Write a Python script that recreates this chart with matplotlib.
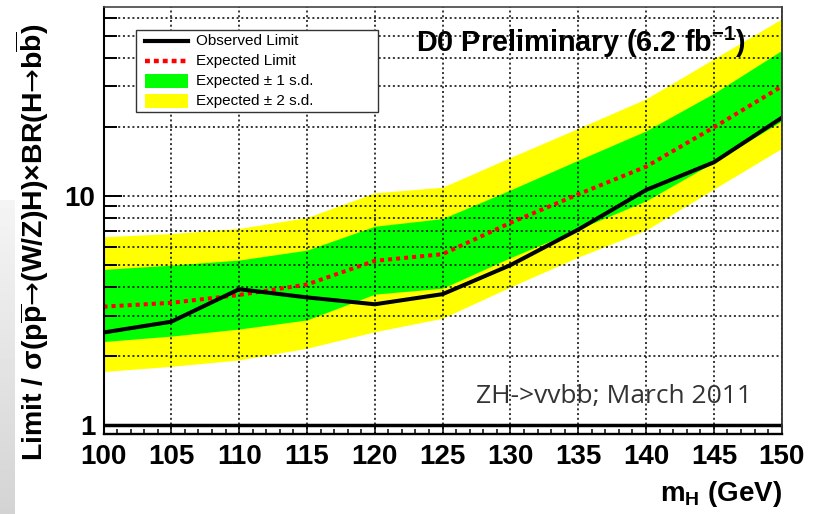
import numpy as np
import matplotlib
matplotlib.use("Agg")
import matplotlib.pyplot as plt
from matplotlib.patches import Rectangle
from matplotlib.lines import Line2D
from matplotlib.transforms import Affine2D
from matplotlib.ticker import FixedLocator, MultipleLocator, NullFormatter, FixedFormatter

# ---------------- data ----------------
mass = [100, 105, 110, 115, 120, 125, 130, 135, 140, 145, 150]
observed = [2.53, 2.82, 3.91, 3.60, 3.36, 3.72, 4.98, 7.12, 10.6, 14.0, 21.9]
expected = [3.28, 3.41, 3.69, 4.10, 5.20, 5.56, 7.62, 10.15, 13.4, 19.9, 30.0]
minus1 = [2.31, 2.44, 2.62, 2.87, 3.72, 3.95, 5.37, 7.15, 9.5, 14.0, 21.2]
plus1 = [4.77, 4.98, 5.24, 5.79, 7.36, 7.95, 10.6, 14.3, 19.2, 28.0, 43.1]
minus2 = [1.71, 1.80, 1.92, 2.16, 2.55, 2.92, 4.0, 5.4, 7.08, 10.7, 16.1]
plus2 = [6.62, 6.84, 7.2, 8.04, 10.3, 10.9, 14.7, 19.7, 26.5, 39.6, 59.2]

xticks = [100, 105, 110, 115, 120, 125, 130, 135, 140, 145, 150]
yticks_major = [1, 10]
yticks_labels = ["1", "10"]
yticks_minor = [2, 3, 4, 5, 6, 7, 8, 9, 20, 30, 40, 50, 60]

legend_labels = ["Observed Limit", "Expected Limit", "Expected \u00b1 1 s.d.", "Expected \u00b1 2 s.d."]

# ---------------- style ----------------
plt.rcParams["font.family"] = ["Liberation Sans", "DejaVu Sans"]
plt.rcParams["mathtext.fontset"] = "custom"
plt.rcParams["mathtext.rm"] = "Liberation Sans:bold"
plt.rcParams["mathtext.bf"] = "Liberation Sans:bold"
plt.rcParams["mathtext.it"] = "Liberation Sans:bold"
plt.rcParams["mathtext.sf"] = "DejaVu Sans"

W, H = 823, 514
fig = plt.figure(figsize=(W / 100, H / 100), dpi=100)
T = Affine2D().scale(1, -1).translate(0, H)  # pixel coords (y from top)

# faint slide background on the far left
bg = fig.add_axes([0, 0, 15 / W, (H - 200) / H], zorder=-5)
grad = np.linspace(0.96, 0.83, 200).reshape(-1, 1)
bg.imshow(np.repeat(grad, 4, axis=1), cmap="gray", vmin=0, vmax=1, aspect="auto",
          extent=[0, 1, 1, 0])
bg.axis("off")

L, R, TOP, BOT = 103.5, 781.7, 7.3, 434.0
ax = fig.add_axes([L / W, 1 - BOT / H, (R - L) / W, (BOT - TOP) / H])
ax.set_yscale("log")
ax.set_xlim(100, 150)
ax.set_ylim(0.912, 66.5)

ax.fill_between(mass, minus2, plus2, color="#ffff00", lw=0, zorder=1)
ax.fill_between(mass, minus1, plus1, color="#00ff00", lw=0, zorder=1.1)
ax.plot(mass, expected, color="#ff0000", lw=2.9, ls=(0, (1, 1)), zorder=3)
ax.plot(mass, observed, color="black", lw=2.9, zorder=3.1)
ax.axhline(1, color="black", lw=2.5, zorder=3.2)

# ticks & grid
ax.yaxis.set_major_locator(FixedLocator(yticks_major))
ax.yaxis.set_major_formatter(FixedFormatter(yticks_labels))
ax.yaxis.set_minor_locator(FixedLocator(yticks_minor))
ax.yaxis.set_minor_formatter(NullFormatter())
ax.xaxis.set_major_locator(FixedLocator(xticks))
ax.xaxis.set_minor_locator(MultipleLocator(1))

ax.tick_params(axis="y", which="major", direction="in", length=13, width=1.4,
               labelsize=20, pad=6, left=True, right=False)
ax.tick_params(axis="y", which="minor", direction="in", length=9, width=1.4,
               left=True, right=False)
ax.tick_params(axis="x", which="major", direction="in", length=7.2, width=1.1,
               labelsize=20, pad=7, bottom=True, top=False)
ax.tick_params(axis="x", which="minor", direction="in", length=3.6, width=1.1,
               bottom=True, top=False)
for lab in ax.get_xticklabels() + ax.get_yticklabels():
    lab.set_fontweight("bold")

ax.set_axisbelow(False)
ax.grid(True, which="major", axis="x", color="black", lw=1.1, ls=(0, (1.3, 1.8)))
ax.grid(True, which="both", axis="y", color="black", lw=1.1, ls=(0, (1.3, 1.8)))

for side, c, lw in [("left", "black", 1.5), ("bottom", "black", 1.7),
                    ("top", "#444444", 1.2), ("right", "#333333", 1.3)]:
    ax.spines[side].set_color(c)
    ax.spines[side].set_linewidth(lw)
    ax.spines[side].set_zorder(4)

# ---------------- legend (drawn in pixel coords, y measured from top) ----------------
fig.add_artist(Rectangle((136, 30), 242.3, 81.7, transform=T, fc="white",
                         ec="#333333", lw=1.0, zorder=10))
rows = [40.7, 60.5, 81.0, 100.5]
fig.add_artist(Line2D([145, 188], [rows[0], rows[0]], transform=T, color="black",
                      lw=3.0, zorder=11))
fig.add_artist(Line2D([145, 188], [rows[1], rows[1]], transform=T, color="#ff0000",
                      lw=3.2, ls=(0, (1.1, 0.9)), zorder=11))
fig.add_artist(Rectangle((145, 74), 43, 14.3, transform=T, fc="#00ff00", lw=0, zorder=11))
fig.add_artist(Rectangle((145, 94.3), 43, 14.0, transform=T, fc="#ffff00", lw=0, zorder=11))
for yy, lab in zip(rows, legend_labels):
    fig.text(196, yy, lab, transform=T, fontsize=11, va="center", ha="left", zorder=12)

# ---------------- texts ----------------
fig.text(416, 52, r"D0 Preliminary (6.2 fb$^{\mathbf{-1}}$)", transform=T,
         fontsize=20.8, fontweight="bold", ha="left", va="baseline", zorder=12)
fig.text(476, 402.7, "ZH->vvbb; March 2011", transform=T, family="Open Sans",
         fontsize=19, color="#333333", ha="left", va="baseline", zorder=12)
fig.text(R, 501, r"m$_{\mathrm{H}}$ (GeV)", transform=T, fontsize=20,
         fontweight="bold", ha="right", va="baseline")
fig.text(32, 242,
         "Limit / \u03c3(p$\\overline{\\mathrm{p}}$$\\mathsf{\u2192}$(W/Z)H)\u00d7BR(H$\\mathsf{\u2192}$b$\\overline{\\mathrm{b}}$)",
         transform=T, fontsize=20.5, fontweight="bold", rotation=90,
         ha="center", va="center")

fig.savefig("out.png", dpi=100)
